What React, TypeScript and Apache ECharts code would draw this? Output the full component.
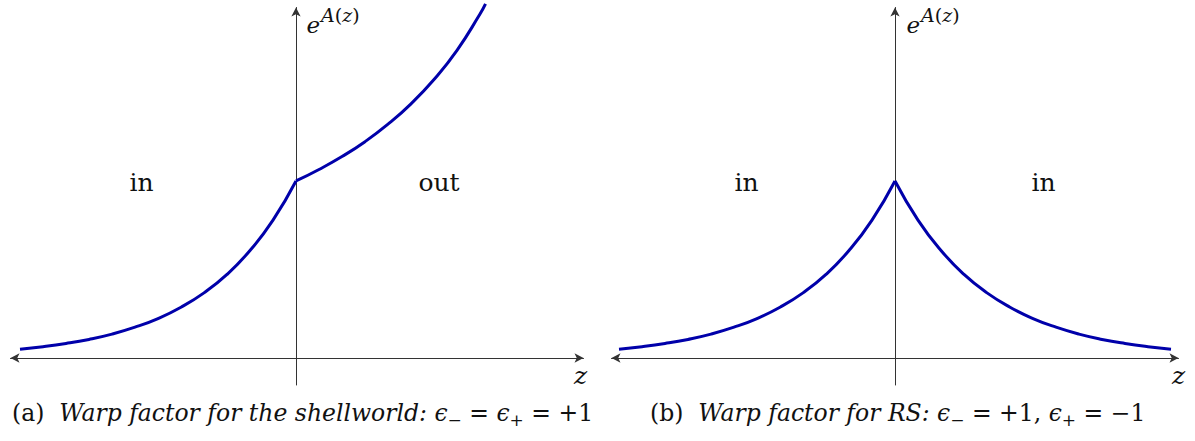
import React, { useEffect, useRef } from 'react';
import * as echarts from 'echarts';

// Panel (a): shellworld, eps- = eps+ = +1
const zInA = [-3, -2.75, -2.5, -2.25, -2, -1.75, -1.5, -1.25, -1, -0.75, -0.5, -0.25, 0];
const warpInA = [0.05, 0.064, 0.082, 0.105, 0.135, 0.174, 0.223, 0.287, 0.368, 0.472, 0.607, 0.779, 1.0];
const zOutA = [0, 0.25, 0.5, 0.75, 1, 1.25, 1.5, 1.75, 2, 2.06];
const warpOutA = [1.0, 1.065, 1.138, 1.222, 1.321, 1.436, 1.573, 1.738, 1.943, 2.0];

// Panel (b): RS, eps- = +1, eps+ = -1
const zLeftB = [-3, -2.75, -2.5, -2.25, -2, -1.75, -1.5, -1.25, -1, -0.75, -0.5, -0.25, 0];
const warpLeftB = [0.05, 0.064, 0.082, 0.105, 0.135, 0.174, 0.223, 0.287, 0.368, 0.472, 0.607, 0.779, 1.0];
const zRightB = [0, 0.25, 0.5, 0.75, 1, 1.25, 1.5, 1.75, 2, 2.25, 2.5, 2.75, 3];
const warpRightB = [1.0, 0.779, 0.607, 0.472, 0.368, 0.287, 0.223, 0.174, 0.135, 0.105, 0.082, 0.064, 0.05];

const regionLabelsA = ['in', 'out'];
const regionLabelsB = ['in', 'in'];
const yLabelMain = 'e';
const xLabel = 'z';

const CURVE = '#0000aa';
const AXIS = '#333333';
const SERIF = 'DejaVu Serif';

const zip = (xs: number[], ys: number[]) => xs.map((x, i) => [x, ys[i]]);

function axisX(gridIndex: number, min: number, max: number) {
  return {
    type: 'value', gridIndex, min, max,
    axisLine: { onZero: true, symbol: ['arrow', 'arrow'], symbolSize: [7, 9], lineStyle: { color: AXIS, width: 1 } },
    axisTick: { show: false }, axisLabel: { show: false }, splitLine: { show: false },
  };
}
function axisY(gridIndex: number, min: number, max: number) {
  return {
    type: 'value', gridIndex, min, max,
    axisLine: { onZero: true, symbol: ['none', 'arrow'], symbolSize: [7, 9], lineStyle: { color: AXIS, width: 1 } },
    axisTick: { show: false }, axisLabel: { show: false }, splitLine: { show: false },
  };
}
function curve(xi: number, data: number[][]) {
  return {
    type: 'line', xAxisIndex: xi, yAxisIndex: xi, data, smooth: true,
    showSymbol: false, symbol: 'none', clip: false,
    lineStyle: { color: CURVE, width: 3 }, silent: true,
  };
}

const TXT = '#111111';

const plain = (text: string, x: number, y: number, size: number, italic = false, align = 'center') => ({
  type: 'text', silent: true,
  style: {
    text, x, y, fill: TXT, fontSize: size, fontFamily: SERIF, fontStyle: italic ? 'italic' : 'normal',
    textAlign: align, textVerticalAlign: 'middle',
  },
});

const CAP = 23.5;
const CAP_LH = 30;
const richBase = {
  n: { fontSize: CAP, fontFamily: SERIF, lineHeight: CAP_LH, color: TXT },
  i: { fontSize: CAP, fontFamily: SERIF, fontStyle: 'italic', lineHeight: CAP_LH, color: TXT },
  m: { fontSize: CAP, fontFamily: SERIF, fontStyle: 'italic', lineHeight: CAP_LH, color: TXT },
  s: { fontSize: 17, fontFamily: SERIF, lineHeight: 17, verticalAlign: 'bottom', color: TXT },
};

const caption = (text: string, x: number, y: number) => ({
  type: 'text', silent: true,
  style: {
    text, x, y, fill: TXT, fontSize: CAP, fontFamily: SERIF, lineHeight: CAP_LH,
    textAlign: 'left', textVerticalAlign: 'middle', rich: richBase,
  },
});

const supLabel = (x: number, y: number) => ({
  type: 'text', silent: true,
  style: {
    text: '{i|A}{n|(}{i|z}{n|)}', x, y, fill: TXT, fontSize: 19, fontFamily: SERIF,
    textAlign: 'left', textVerticalAlign: 'middle',
    rich: {
      i: { fontSize: 19, fontFamily: SERIF, fontStyle: 'italic', color: TXT },
      n: { fontSize: 19, fontFamily: SERIF, color: TXT },
    },
  },
});

export default function App() {
  const ref = useRef<HTMLDivElement>(null);
  useEffect(() => {
    if (!ref.current) return;
    const chart = echarts.init(ref.current, undefined, { renderer: 'svg' });
    const option = {
      animation: false,
      backgroundColor: '#ffffff',
      textStyle: { fontFamily: SERIF },
      grid: [
        { left: 10.5, top: 7.5, width: 573, height: 377.5 },
        { left: 611.5, top: 7.5, width: 567, height: 377.5 },
      ],
      xAxis: [axisX(0, -3.1033, 3.125), axisX(1, -3.0815, 3.0815)],
      yAxis: [axisY(0, -0.1525, 1.98), axisY(1, -0.1525, 1.98)],
      series: [
        curve(0, zip(zInA, warpInA)),
        curve(0, zip(zOutA, warpOutA)),
        curve(1, zip(zLeftB, warpLeftB)),
        curve(1, zip(zRightB, warpRightB)),
      ],
      graphic: [
        plain(regionLabelsA[0], 141.5, 182, 25),
        plain(regionLabelsA[1], 439, 182, 25),
        plain(regionLabelsB[0], 746.5, 182, 25),
        plain(regionLabelsB[1], 1043.5, 182, 25),
        plain(yLabelMain, 306.5, 25, 23, true, 'left'),
        supLabel(321, 15),
        plain(yLabelMain, 906.5, 25, 23, true, 'left'),
        supLabel(921, 15),
        plain(xLabel, 580.5, 375, 25, true),
        plain(xLabel, 1178.5, 375, 25, true),
        caption('{n|(a)}  {i|Warp factor for the shellworld:} {m|ϵ}{s|−} {n|=} {m|ϵ}{s|+} {n|= +1}', 12, 413),
        caption('{n|(b)}  {i|Warp factor for RS:} {m|ϵ}{s|−} {n|= +1,} {m|ϵ}{s|+} {n|= −1}', 650, 413),
      ],
    };
    chart.setOption(option as any);
    return () => chart.dispose();
  }, []);
  return (
    <div
      ref={ref}
      style={{ position: 'absolute', left: 0, top: 0, width: 1195, height: 441, background: '#fff' }}
    />
  );
}
